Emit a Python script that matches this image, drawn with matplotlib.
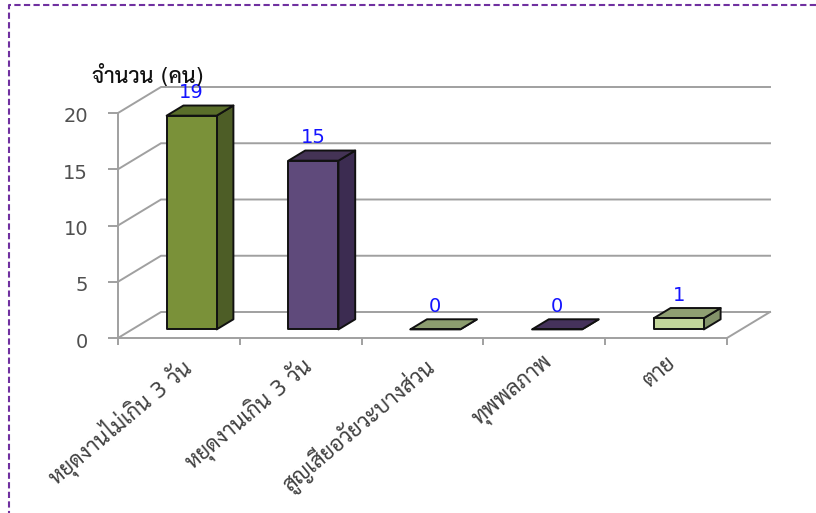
import matplotlib
matplotlib.use('Agg')
import matplotlib.pyplot as plt
from matplotlib.lines import Line2D
from matplotlib.patches import Polygon
from matplotlib.transforms import ScaledTranslation

# values
categories = ['หยุดงานไม่เกิน 3 วัน', 'หยุดงานเกิน 3 วัน', 'สูญเสียอวัยวะบางส่วน', 'ทุพพลภาพ', 'ตาย']
values = [19, 15, 0, 0, 1]
y_ticks = [0, 5, 10, 15, 20]
y_title = 'จำนวน (คน)'

front_colors = ['#7a9139', '#5f4a7b', '#8c9d6f', '#45325b', '#c3d69b']
top_colors = ['#5a6e2a', '#443355', '#8c9d6f', '#45325b', '#8f9f72']
side_colors = ['#4d5d26', '#3c2c51', '#8c9d6f', '#45325b', '#83936a']

plt.rcParams['font.family'] = ['DejaVu Sans', 'Sarabun', 'Noto Sans Thai']

W, H = 816, 513
fig = plt.figure(figsize=(W / 100, H / 100), dpi=100)
ax = fig.add_axes([118 / W, (H - 338) / H, 609 / W, 225 / H])
ax.set_xlim(0, 5)
ax.set_ylim(0, 20)
ax.patch.set_visible(False)

# depth of the fake 3d box, in data units
dx = 43 / (609 / 5)
dy = 26 / (225 / 20)
grey = '#a0a0a0'
line_w = 1.4


def proj(x, y, d):
    return (x + d * dx, y + d * dy)


# walls and gridlines
for t in y_ticks:
    ax.plot(*zip(proj(0, t, 0), proj(0, t, 1), proj(5, t, 1)), color=grey, lw=line_w, clip_on=False, zorder=1)
ax.plot(*zip(proj(5, 0, 0), proj(5, 0, 1)), color=grey, lw=line_w, clip_on=False, zorder=1)

# bars
z0, z1 = 0.33, 0.72
bar_w = 50 / (609 / 5)
for i, v in enumerate(values):
    x0 = i + 0.5 - bar_w / 2 - 0.012
    x1 = x0 + bar_w
    top = [proj(x0, v, z0), proj(x1, v, z0), proj(x1, v, z1), proj(x0, v, z1)]
    side = [proj(x1, 0, z0), proj(x1, v, z0), proj(x1, v, z1), proj(x1, 0, z1)]
    front = [proj(x0, 0, z0), proj(x1, 0, z0), proj(x1, v, z0), proj(x0, v, z0)]
    for pts, c in [(side, side_colors[i]), (top, top_colors[i]), (front, front_colors[i])]:
        ax.add_patch(Polygon(pts, closed=True, fc=c, ec='#111111', lw=1.4, joinstyle='round', clip_on=False, zorder=3))
    lx, ly = proj(i + 0.5, v, 0.5)
    ax.annotate(str(v), (lx, ly), xytext=(-9, 9), textcoords='offset pixels', ha='center', va='bottom',
                color='#1414ff', fontsize=14, zorder=4, annotation_clip=False)

for s in ['top', 'right']:
    ax.spines[s].set_visible(False)
for s in ['left', 'bottom']:
    ax.spines[s].set_color(grey)
    ax.spines[s].set_linewidth(line_w)

ax.set_yticks(y_ticks)
ax.set_yticklabels([str(t) for t in y_ticks], fontsize=14, color='#505050')
ax.tick_params(axis='y', length=7.5, width=line_w, color=grey, pad=14, direction='out')
for lab in ax.get_yticklabels():
    lab.set_transform(lab.get_transform() + ScaledTranslation(0, -2 / 100, fig.dpi_scale_trans))

ax.set_xticks(range(6))
ax.set_xticklabels([])
ax.tick_params(axis='x', which='major', length=5, width=line_w, color=grey)
ax.set_xticks([i + 0.5 for i in range(5)], minor=True)
ax.set_xticklabels(categories, minor=True, rotation=40, ha='right', rotation_mode='anchor', fontsize=15.5, color='#404040')
ax.tick_params(axis='x', which='minor', length=0, pad=11)

fig.text(92 / W, (H - 75) / H, y_title, fontsize=15.5, fontweight=500, color='#111111', va='center', ha='left')

# purple dashed frame
frame = '#7030a0'
fig.add_artist(Line2D([1, 9 / W, 9 / W], [(H - 5) / H, (H - 5) / H, 0], color=frame, lw=1.5,
                      linestyle=(0, (3, 1.6)), transform=fig.transFigure))

fig.savefig('out.png', dpi=100)
